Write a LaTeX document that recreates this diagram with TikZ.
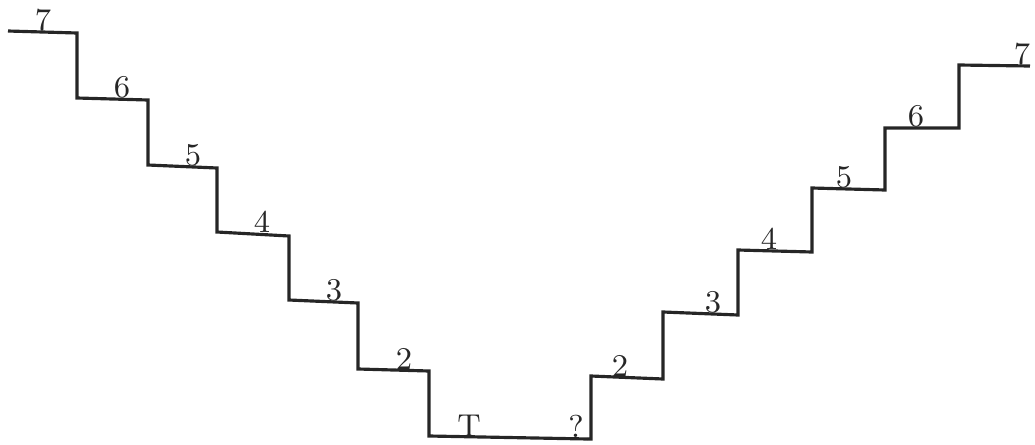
\documentclass[tikz,border=0pt]{standalone}
\begin{document}
\begin{tikzpicture}[x=0.01cm,y=-0.01cm,
  stair/.style={line width=0.9pt,line join=miter,black!85},
  lab/.style={anchor=base,inner sep=0pt,font=\fontsize{9}{10}\selectfont,black!85}]
\useasboundingbox (0,0) rectangle (1035,445);
% left staircase
\draw[stair] (8,31) -- (77,33) -- (77,98) -- (148,100) -- (148,165) -- (217,168)
  -- (217,232) -- (289,236) -- (289,300) -- (358,303) -- (358,369) -- (429,371)
  -- (429,436) -- (588,439);
% right staircase
\draw[stair] (588,439) -- (591,439) -- (591,376) -- (663,379) -- (663,312) -- (738,315)
  -- (738,250) -- (812,252) -- (812,188) -- (885,190) -- (885,128) -- (959,128)
  -- (959,65) -- (1030,66);
% labels left
\node[lab] (l7) at (43,30) {7};
\node[lab] (l6) at (122,97) {6};
\node[lab] (l5) at (193,165) {5};
\node[lab] (l4) at (262,232) {4};
\node[lab] (l3) at (334,300) {3};
\node[lab] (l2) at (404,369) {2};
\node[lab] (lt) at (469,436) {T};
\node[lab] (lq) at (576,437) {?};
% labels right
\node[lab] (r2) at (620,376) {2};
\node[lab] (r3) at (713,312) {3};
\node[lab] (r4) at (769,249) {4};
\node[lab] (r5) at (844,187) {5};
\node[lab] (r6) at (916,126) {6};
\node[lab] (r7) at (1022,64) {7};
\end{tikzpicture}
\end{document}
